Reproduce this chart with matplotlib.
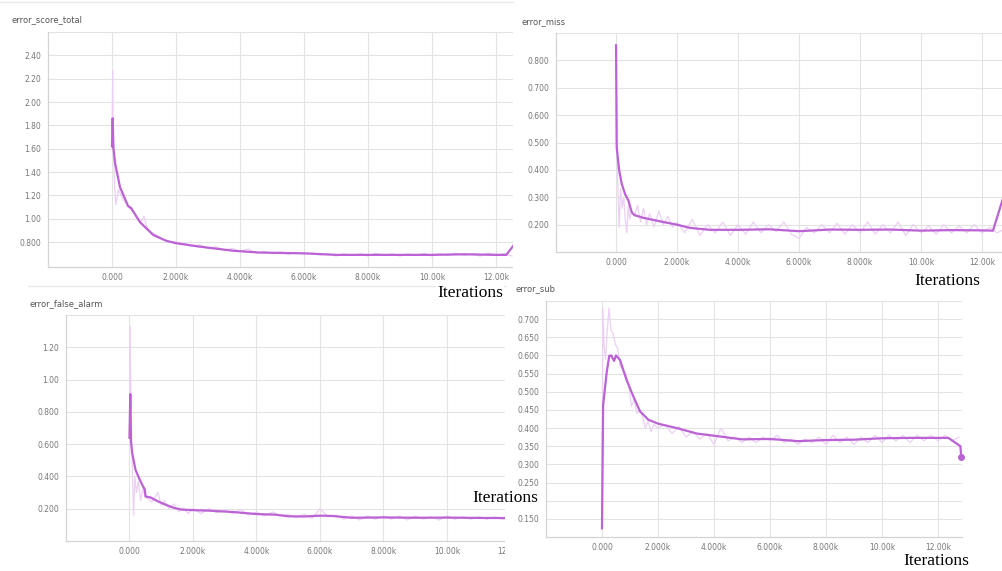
import matplotlib
matplotlib.use('Agg')
import matplotlib.pyplot as plt
from matplotlib.lines import Line2D

# ---- data ----
x_tick_vals = [0, 2000, 4000, 6000, 8000, 10000, 12000]
x_tick_text = ['0.000', '2.000k', '4.000k', '6.000k', '8.000k', '10.00k', '12.00k']

late_steps = [2250, 2500, 2750, 3000, 3250, 3500, 3750, 4000, 4250, 4500, 4750, 5000,
              5250, 5500, 5750, 6000, 6250, 6500, 6750, 7000, 7250, 7500, 7750, 8000,
              8250, 8500, 8750, 9000, 9250, 9500, 9750, 10000, 10250, 10500, 10750, 11000,
              11250, 11500, 11750, 12000, 12250, 12500]

# error_score_total
total_smooth_x = [0, 20, 45, 100, 250, 500, 600, 875, 1290, 1700, 2000, 2750, 3800, 4600,
                  6000, 7000, 8000, 9000, 10000, 11000, 12000, 12320, 12560]
total_smooth_y = [1.62, 1.86, 1.60, 1.47, 1.27, 1.11, 1.09, 0.97, 0.86, 0.81, 0.79, 0.76, 0.725, 0.71,
                  0.703, 0.69, 0.69, 0.69, 0.69, 0.695, 0.69, 0.69, 0.775]
total_raw_x = [0, 20, 40, 80, 120, 160, 200, 250, 300, 350, 400, 500, 600, 700, 800, 900, 1000,
               1100, 1250, 1400, 1550, 1700, 1850, 2000] + late_steps
total_raw_y = [1.62, 2.27, 1.70, 1.30, 1.12, 1.18, 1.25, 1.22, 1.20, 1.16, 1.15, 1.10, 1.08, 1.04,
               1.00, 0.97, 1.02, 0.92, 0.88, 0.86, 0.83, 0.81, 0.80, 0.80,
               0.79, 0.765, 0.775, 0.745, 0.76, 0.73, 0.745, 0.72, 0.74, 0.705, 0.72, 0.70,
               0.715, 0.695, 0.71, 0.70, 0.705, 0.69, 0.70, 0.68, 0.70, 0.685, 0.70, 0.68,
               0.705, 0.685, 0.70, 0.68, 0.70, 0.685, 0.705, 0.68, 0.70, 0.685, 0.705, 0.685,
               0.70, 0.68, 0.705, 0.685, 0.70, 0.68]

# error_miss
miss_smooth_x = [0, 20, 100, 185, 300, 405, 515, 600, 890, 1440, 1990, 2425, 3080, 4070, 5000,
                 6000, 7000, 8000, 9000, 10000, 11000, 12000, 12360, 12700]
miss_smooth_y = [0.855, 0.483, 0.40, 0.349, 0.31, 0.288, 0.245, 0.235, 0.225, 0.212, 0.200, 0.188,
                 0.181, 0.181, 0.183, 0.176, 0.182, 0.181, 0.182, 0.178, 0.18, 0.179, 0.178, 0.30]
miss_raw_x = [0, 30, 60, 100, 150, 200, 250, 300, 350, 400, 450, 500, 600, 700, 800, 900, 1000,
              1100, 1250, 1400, 1550, 1700, 1850, 2000] + late_steps + [12750]
miss_raw_y = [0.855, 0.50, 0.33, 0.19, 0.33, 0.26, 0.30, 0.22, 0.17, 0.27, 0.22, 0.25, 0.23, 0.27,
              0.21, 0.26, 0.20, 0.24, 0.19, 0.25, 0.20, 0.23, 0.19, 0.21,
              0.17, 0.22, 0.16, 0.20, 0.17, 0.21, 0.16, 0.20, 0.165, 0.21, 0.17, 0.20,
              0.175, 0.21, 0.165, 0.15, 0.19, 0.17, 0.20, 0.17, 0.205, 0.165, 0.20, 0.17,
              0.21, 0.165, 0.20, 0.17, 0.21, 0.16, 0.20, 0.17, 0.195, 0.165, 0.20, 0.17,
              0.195, 0.17, 0.20, 0.17, 0.19, 0.17, 0.185]

# error_false_alarm
fa_smooth_x = [0, 25, 45, 85, 190, 300, 400, 480, 505, 660, 900, 1135, 1400, 1660, 2180, 2500,
               3230, 4000, 4600, 5000, 5500, 6000, 6400, 7000, 8000, 9000, 10000, 11000, 12000, 12500]
fa_smooth_y = [0.64, 0.91, 0.62, 0.544, 0.44, 0.39, 0.348, 0.32, 0.276, 0.27, 0.245, 0.225, 0.205,
               0.194, 0.19, 0.188, 0.18, 0.167, 0.163, 0.153, 0.152, 0.157, 0.155, 0.144, 0.146,
               0.144, 0.145, 0.143, 0.142, 0.142]
fa_raw_x = [0, 20, 50, 90, 130, 170, 220, 280, 350, 420, 500, 600, 700, 800, 900, 1000, 1100,
            1250, 1400, 1550, 1700, 1850, 2000] + late_steps
fa_raw_y = [0.64, 1.33, 0.80, 0.45, 0.16, 0.40, 0.30, 0.37, 0.25, 0.33, 0.27, 0.26, 0.24, 0.27,
            0.30, 0.22, 0.25, 0.20, 0.23, 0.18, 0.205, 0.17, 0.20,
            0.17, 0.20, 0.175, 0.19, 0.17, 0.195, 0.16, 0.18, 0.155, 0.18, 0.155, 0.165,
            0.145, 0.165, 0.14, 0.20, 0.15, 0.16, 0.135, 0.155, 0.13, 0.155, 0.135, 0.155,
            0.135, 0.155, 0.13, 0.155, 0.135, 0.15, 0.13, 0.155, 0.135, 0.15, 0.135, 0.15,
            0.135, 0.15, 0.135, 0.15, 0.14, 0.15]

# error_sub
sub_smooth_x = [0, 20, 40, 170, 260, 330, 430, 500, 640, 880, 1120, 1360, 1655, 2010, 2670, 3380,
                4095, 5000, 6000, 7000, 8000, 9000, 10000, 11000, 12000, 12370, 12800, 12830]
sub_smooth_y = [0.124, 0.30, 0.463, 0.555, 0.599, 0.60, 0.585, 0.60, 0.588, 0.532, 0.487, 0.446,
                0.423, 0.412, 0.40, 0.385, 0.378, 0.369, 0.37, 0.364, 0.367, 0.368, 0.372, 0.373,
                0.373, 0.373, 0.35, 0.32]
sub_raw_x = [0, 30, 80, 130, 180, 250, 320, 400, 480, 560, 650, 750, 850, 950, 1050, 1150, 1250,
             1350, 1450, 1550, 1650, 1750, 1850, 2000] + late_steps + [12750]
sub_raw_y = [0.124, 0.73, 0.62, 0.59, 0.66, 0.73, 0.67, 0.66, 0.63, 0.62, 0.57, 0.56, 0.55, 0.52,
             0.46, 0.48, 0.44, 0.45, 0.43, 0.40, 0.42, 0.39, 0.41, 0.40,
             0.41, 0.385, 0.405, 0.375, 0.39, 0.37, 0.385, 0.355, 0.40, 0.365, 0.375, 0.36,
             0.375, 0.36, 0.375, 0.365, 0.38, 0.36, 0.37, 0.355, 0.37, 0.36, 0.375, 0.355,
             0.38, 0.36, 0.375, 0.355, 0.375, 0.36, 0.38, 0.36, 0.38, 0.365, 0.38, 0.36,
             0.38, 0.365, 0.38, 0.365, 0.38, 0.365, 0.375]

total_yticks = [0.8, 1.0, 1.2, 1.4, 1.6, 1.8, 2.0, 2.2, 2.4, 2.6]
total_ylabels = ['0.800', '1.00', '1.20', '1.40', '1.60', '1.80', '2.00', '2.20', '2.40', '']
miss_yticks = [0.2, 0.3, 0.4, 0.5, 0.6, 0.7, 0.8, 0.9]
miss_ylabels = ['0.200', '0.300', '0.400', '0.500', '0.600', '0.700', '0.800', '']
fa_yticks = [0.2, 0.4, 0.6, 0.8, 1.0, 1.2, 1.4]
fa_ylabels = ['0.200', '0.400', '0.600', '0.800', '1.00', '1.20', '']
# the 0.200 label of error_sub is hidden under a pasted "Iterations" in the screenshot
sub_yticks = [0.15, 0.2, 0.25, 0.3, 0.35, 0.4, 0.45, 0.5, 0.55, 0.6, 0.65, 0.7, 0.75]
sub_ylabels = ['0.150', '', '0.250', '0.300', '0.350', '0.400', '0.450', '0.500',
               '0.550', '0.600', '0.650', '0.700', '']

SMOOTH = '#bb62d4'
RAW = '#ecd0f3'
W, H = 1002, 571

fig = plt.figure(figsize=(W / 100, H / 100), dpi=100)
fig.patch.set_facecolor('white')


def frac(l, t, r, b):
    # pixel box (from top-left) -> figure fraction rect
    return [l / W, 1 - b / H, (r - l) / W, (b - t) / H]


def card(l, t, r, b, z):
    c = fig.add_axes(frac(l, t, r, b), zorder=z)
    c.set_facecolor('white')
    c.set_xticks([])
    c.set_yticks([])
    for s in c.spines.values():
        s.set_visible(False)
    return c


def panel(box, z, title, title_xy, xlim, ylim, yt, yl, rx, ry, sx, sy):
    ax = fig.add_axes(frac(*box), zorder=z)
    ax.set_facecolor('none')
    ax.plot(rx, ry, color=RAW, lw=0.9, zorder=2)
    ax.plot(sx, sy, color=SMOOTH, lw=1.6, zorder=3, solid_joinstyle='round')
    ax.set_xlim(xlim)
    ax.set_ylim(ylim)
    ax.set_xticks(x_tick_vals)
    ax.set_xticklabels(x_tick_text)
    ax.set_yticks(yt)
    ax.set_yticklabels(yl)
    ax.tick_params(length=0, labelsize=5.5, colors='#777777')
    ax.tick_params(axis='x', pad=4.5)
    ax.tick_params(axis='y', pad=5)
    ax.grid(color='#e3e3e3', lw=0.8)
    ax.set_axisbelow(True)
    for s in ['top', 'right']:
        ax.spines[s].set_visible(False)
    for s in ['left', 'bottom']:
        ax.spines[s].set_color('#d4d4d4')
        ax.spines[s].set_linewidth(0.9)
    fig.text(title_xy[0] / W, 1 - title_xy[1] / H, title, fontsize=6,
             color='#555555', va='center', ha='left', zorder=z)
    return ax


card(0, 0, 513, 280, 1)
ax1 = panel((48, 32, 513, 267), 2, 'error_score_total', (12, 20), (-2000, 12530), (0.586, 2.6),
            total_yticks, total_ylabels, total_raw_x, total_raw_y, total_smooth_x, total_smooth_y)

card(513, 0, W, 280, 3)
ax2 = panel((556, 33, W, 252), 4, 'error_miss', (522, 22), (-1970, 12656), (0.1, 0.9),
            miss_yticks, miss_ylabels, miss_raw_x, miss_raw_y, miss_smooth_x, miss_smooth_y)

card(0, 280, 505, H, 5)
ax3 = panel((66, 315, 527, 541), 6, 'error_false_alarm', (30, 304), (-2000, 12520), (0.0, 1.4),
            fa_yticks, fa_ylabels, fa_raw_x, fa_raw_y, fa_smooth_x, fa_smooth_y)

card(505, 280, W, H, 7)
ax4 = panel((546, 301, 962, 537), 8, 'error_sub', (515, 289), (-2000, 12857), (0.1, 0.75),
            sub_yticks, sub_ylabels, sub_raw_x, sub_raw_y, sub_smooth_x, sub_smooth_y)
ax4.plot(sub_smooth_x[-1:], sub_smooth_y[-1:], 'o', color=SMOOTH, ms=4, zorder=4, clip_on=False)

# faint card borders from the screenshots
fig.add_artist(Line2D([0, 513 / W], [1 - 2 / H, 1 - 2 / H], color='#e8e8e8', lw=1, zorder=9))
fig.add_artist(Line2D([28 / W, 505 / W], [1 - 286 / H, 1 - 286 / H], color='#e8e8e8', lw=1, zorder=9))

# "Iterations" labels pasted on top of the screenshots
for cx, cy in [(470, 293), (947, 281), (505, 498), (936, 561)]:
    fig.text(cx / W, 1 - cy / H, 'Iterations', family='Liberation Serif', fontsize=12.5,
             color='black', ha='center', va='center', zorder=50,
             bbox=dict(facecolor='white', edgecolor='none', pad=0.5))

fig.savefig('out.png', dpi=100, facecolor='white')
